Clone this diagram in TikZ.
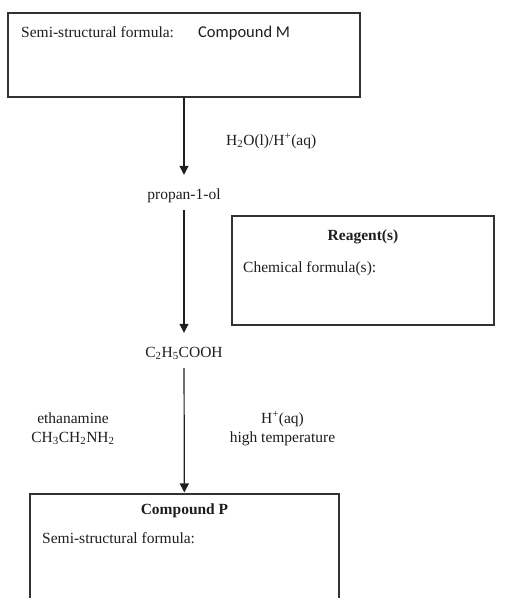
\documentclass[tikz,border=0pt]{standalone}
\usepackage{fontspec}
\setmainfont{Liberation Serif}
\newfontfamily\labelsans{Carlito}
\usepackage{xcolor}
\usetikzlibrary{arrows.meta}
\definecolor{inkgrey}{RGB}{30,30,30}
\definecolor{boxline}{RGB}{50,50,50}

\begin{document}
\begin{tikzpicture}[
    x=1pt, y=-1pt,
    font=\fontsize{15.5}{19}\selectfont,
    every node/.style={text=inkgrey, inner sep=0pt},
    answerbox/.style={draw=boxline, line width=1.2pt},
    chem/.style={text height=11pt, text depth=3.5pt, anchor=base},
    flow/.style={draw=inkgrey, line width=1.2pt, -{Triangle[width=9pt,length=9pt]}}
    ]
    \clip (0,0) rectangle (513,598);

    % boxes
    \node[answerbox, minimum width=352pt, minimum height=84pt] (boxM) at (184,55) {};
    \node[answerbox, minimum width=262pt, minimum height=109pt] (boxR) at (363,270.5) {};
    \node[answerbox, minimum width=309pt, minimum height=132pt] (boxP) at (184.5,560) {};

    \node[anchor=base west] (semiM) at (21,37) {Semi-structural formula:};
    \node[anchor=base west, font=\labelsans\fontsize{16.5}{19}\selectfont] (nameM) at (198,37) {Compound M};
    \node[anchor=base, font=\fontsize{15.5}{19}\selectfont\bfseries] (reagent) at (363,240) {Reagent(s)};
    \node[anchor=base west] (formR) at (243,272) {Chemical formula(s):};
    \node[anchor=base, font=\fontsize{15.5}{19}\selectfont\bfseries] (nameP) at (184.5,514) {Compound P};
    \node[anchor=base west] (semiP) at (42,543) {Semi-structural formula:};

    % compounds
    \node[chem] (prop) at (184,199) {propan-1-ol};
    \node[chem] (acid) at (184,357) {C\textsubscript{2}H\textsubscript{5}COOH};

    % conditions
    \node[anchor=base west] (cond1) at (226,145) {H\textsubscript{2}O(l)/H\textsuperscript{+}(aq)};
    \node[anchor=base, align=center] (amine) at (73,442) {ethanamine\\CH\textsubscript{3}CH\textsubscript{2}NH\textsubscript{2}};
    \node[anchor=base, align=center] (cond3) at (282.5,442) {H\textsuperscript{+}(aq)\\high temperature};

    \draw[flow, shorten >=13pt] (boxM) -- (prop);
    \draw[flow, shorten <=7.5pt, shorten >=13pt] (prop) -- (acid);
    \draw[flow, shorten <=7.5pt, shorten >=1pt] (acid) -- (boxP);
\end{tikzpicture}
\end{document}
